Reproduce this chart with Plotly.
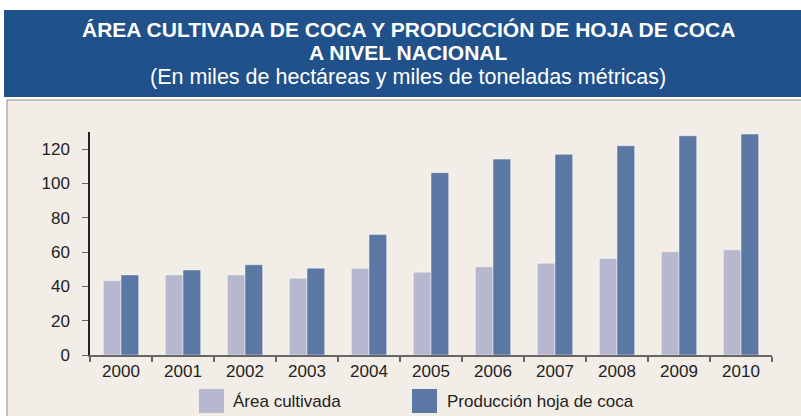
import plotly.graph_objects as go

# datos (miles de ha / miles de t)
years = ['2000', '2001', '2002', '2003', '2004', '2005', '2006', '2007', '2008', '2009', '2010']
area_cultivada = [43.4, 46.7, 46.7, 44.8, 50.5, 48.3, 51.5, 53.5, 56.3, 60.2, 61.3]
produccion_hoja = [46.7, 49.6, 52.6, 50.6, 70.2, 106.3, 114.2, 117.0, 122.0, 127.8, 128.8]

light = '#b7b7d0'
dark = '#5b78a5'
beige = '#f2eee7'
banner = '#21518a'
fontsize = 17

W, H = 801, 416
L, R, T, B = 90, 29, 132, 61
pw, ph = W - L - R, H - T - B


def px(x):  # pixel -> paper x
    return (x - L) / pw


def py(y):  # pixel -> paper y
    return (H - B - y) / ph


fig = go.Figure()
fig.add_trace(go.Bar(name='Área cultivada', x=years, y=area_cultivada,
                     marker=dict(color=light, line=dict(color='rgba(255,255,255,0.45)', width=1)),
                     showlegend=False))
fig.add_trace(go.Bar(name='Producción hoja de coca', x=years, y=produccion_hoja,
                     marker=dict(color=dark, line=dict(color='rgba(255,255,255,0.45)', width=1)),
                     showlegend=False))

shapes = [
    # panel beige
    dict(type='rect', xref='paper', yref='paper', x0=px(7), x1=px(802), y0=py(417), y1=py(100),
         fillcolor=beige, line=dict(color='#8a8a8a', width=1), layer='below'),
    # banda del titulo
    dict(type='rect', xref='paper', yref='paper', x0=px(4), x1=px(802), y0=py(97), y1=py(10),
         fillcolor=banner, line=dict(width=0), layer='below'),
    # leyenda
    dict(type='rect', xref='paper', yref='paper', x0=px(199), x1=px(224), y0=py(413), y1=py(389),
         fillcolor=light, line=dict(width=0)),
    dict(type='rect', xref='paper', yref='paper', x0=px(412), x1=px(437), y0=py(413), y1=py(389),
         fillcolor=dark, line=dict(width=0)),
]

annotations = [
    dict(text='<b>ÁREA CULTIVADA DE COCA Y PRODUCCIÓN DE HOJA DE COCA</b>', x=px(408), y=py(29),
         font=dict(size=21, color='white')),
    dict(text='<b>A NIVEL NACIONAL</b>', x=px(408), y=py(52), font=dict(size=21, color='white')),
    dict(text='(En miles de hectáreas y miles de toneladas métricas)', x=px(408), y=py(77),
         font=dict(size=21.5, color='white')),
    dict(text='Área cultivada', x=px(231), y=py(401), xanchor='left',
         font=dict(size=fontsize, color='#222')),
    dict(text='Producción hoja de coca', x=px(445), y=py(401), xanchor='left',
         font=dict(size=fontsize, color='#222')),
]
for a in annotations:
    a.update(xref='paper', yref='paper', showarrow=False, yanchor='middle')
    a.setdefault('xanchor', 'center')

fig.update_layout(barmode='group', bargap=0.43, bargroupgap=0,
                  width=W, height=H, autosize=False,
                  margin=dict(l=L, r=R, t=T, b=B, pad=0),
                  paper_bgcolor='white', plot_bgcolor='rgba(0,0,0,0)',
                  font=dict(family='Liberation Sans, Arial, sans-serif', size=fontsize, color='#222'),
                  shapes=shapes, annotations=annotations)
fig.update_xaxes(showgrid=False, showline=True, linecolor='#666', linewidth=1.5,
                 ticks='outside', tickson='boundaries', ticklen=5, tickcolor='#666', tickwidth=1.5)
fig.update_yaxes(range=[0, 130], dtick=20, showgrid=False, zeroline=False, showline=True,
                 linecolor='#222', linewidth=1.5, ticks='outside', ticklen=6, tickcolor='#666',
                 tickwidth=1, ticklabelstandoff=9)

# quitar el margen del body para que la figura quede en 0,0
fig.write_html("out.html", config={'displayModeBar': False},
               post_script="document.body.style.margin='0';document.body.style.overflow='hidden';")
